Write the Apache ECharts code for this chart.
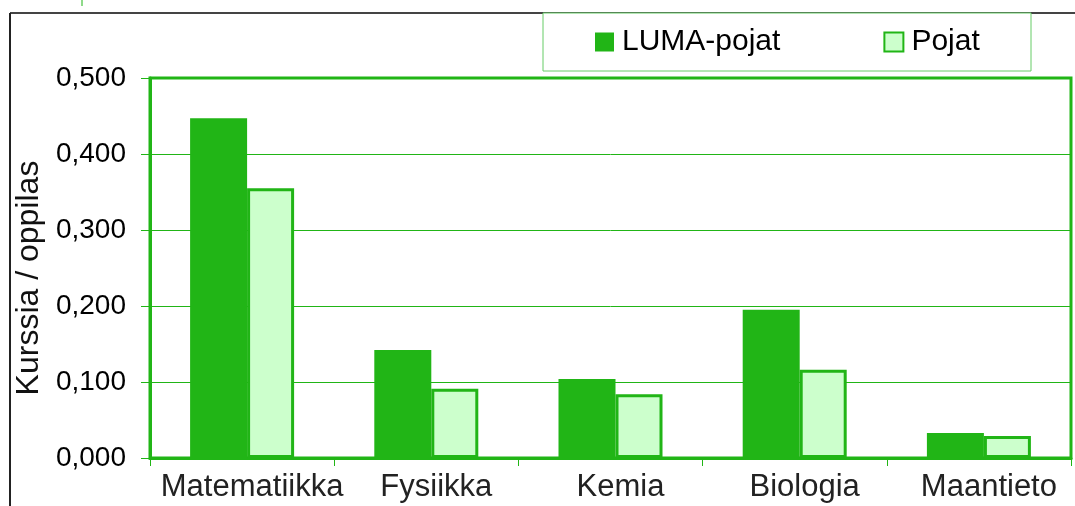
<!DOCTYPE html>
<html>
<head>
<meta charset="utf-8">
<script src="https://cdn.jsdelivr.net/npm/echarts@6/dist/echarts.min.js"></script>
<style>
  html, body { margin: 0; padding: 0; background: #fff; }
  #chart { width: 1075px; height: 506px; }
</style>
</head>
<body>
<div id="chart"></div>
<script>
// data
var categories = ["Matematiikka", "Fysiikka", "Kemia", "Biologia", "Maantieto"];
var lumaPojat = [0.447, 0.142, 0.104, 0.195, 0.033];
var pojat = [0.355, 0.091, 0.084, 0.116, 0.029];
var yTicks = [0, 0.1, 0.2, 0.3, 0.4, 0.5];

var green = "#21b516";
var light = "#ccffcc";
var font = "'Liberation Sans', Arial, sans-serif";

var chart = echarts.init(document.getElementById("chart"));

chart.setOption({
  animation: false,
  textStyle: { fontFamily: font },
  graphic: [
    // outer frame lines
    { type: "line", shape: { x1: 10, y1: 13, x2: 1075, y2: 13 }, style: { stroke: "#444", lineWidth: 2 } },
    { type: "line", shape: { x1: 10, y1: 13, x2: 10, y2: 506 }, style: { stroke: "#222", lineWidth: 2 } },
    { type: "line", shape: { x1: 82, y1: 0, x2: 82, y2: 6 }, style: { stroke: green, lineWidth: 1 } },
    // legend box
    { type: "rect", shape: { x: 543, y: 13, width: 488, height: 58 }, style: { fill: "#fff", stroke: "#66cc66", lineWidth: 1 }, z: 1 }
  ],
  legend: {
    left: 590,
    top: 22,
    icon: "rect",
    itemWidth: 19,
    itemHeight: 19,
    itemGap: 103,
    z: 10,
    textStyle: { fontSize: 30, color: "#000", fontFamily: font, padding: [0, 0, 0, 3] },
    data: [
      { name: "LUMA-pojat", itemStyle: { color: green, borderWidth: 0 } },
      { name: "Pojat", itemStyle: { color: light, borderColor: green, borderWidth: 2 } }
    ]
  },
  grid: {
    left: 150,
    right: 4,
    top: 78,
    bottom: 48,
    show: true,
    borderColor: green,
    borderWidth: 3,
    outerBoundsMode: "none",
    containLabel: false
  },
  xAxis: {
    type: "category",
    data: categories,
    axisLine: { lineStyle: { color: green, width: 3 } },
    axisTick: { show: true, length: 8, lineStyle: { color: green, width: 1 } },
    axisLabel: { interval: 0, fontSize: 31, color: "#222", margin: 14, fontFamily: font, padding: [0, 0, 0, 20] }
  },
  yAxis: {
    type: "value",
    min: 0,
    max: 0.5,
    interval: 0.1,
    name: "Kurssia / oppilas",
    nameLocation: "middle",
    nameGap: 101,
    nameTextStyle: { fontSize: 32, color: "#111", fontFamily: font, padding: [0, 20, 0, 0] },
    axisLine: { show: true, lineStyle: { color: green, width: 3 } },
    axisTick: { show: true, length: 9, lineStyle: { color: green, width: 1 } },
    splitLine: { lineStyle: { color: green, width: 1 } },
    axisLabel: {
      fontSize: 28,
      color: "#000",
      margin: 24,
      fontFamily: font,
      formatter: function (v) {
        return v.toFixed(3).replace(".", ",");
      }
    }
  },
  series: [
    {
      name: "LUMA-pojat",
      type: "bar",
      data: lumaPojat,
      barWidth: 57,
      barGap: "0%",
      itemStyle: { color: green }
    },
    {
      name: "Pojat",
      type: "bar",
      data: pojat,
      barWidth: 47,
      barGap: "0%",
      itemStyle: { color: light, borderColor: green, borderWidth: 3 }
    }
  ]
});
</script>
</body>
</html>
